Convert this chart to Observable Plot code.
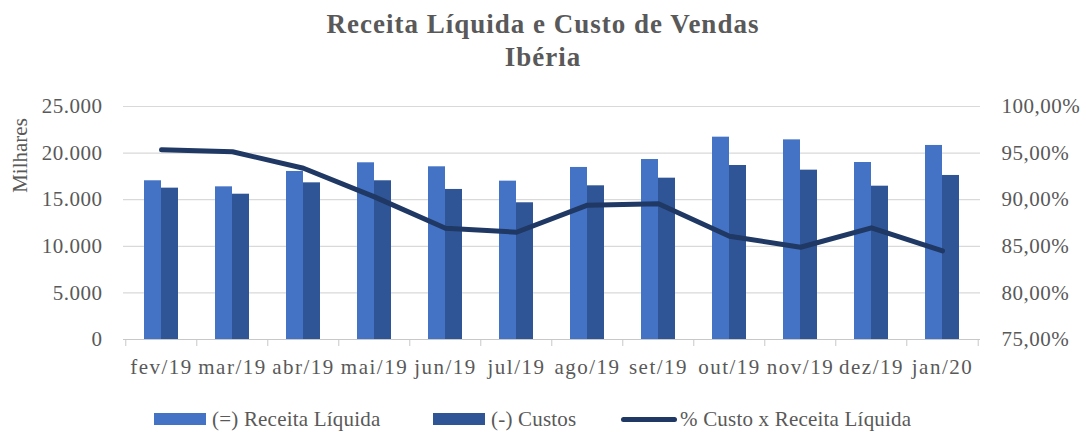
<!DOCTYPE html>
<html>
<head>
<meta charset="utf-8">
<script src="https://cdn.jsdelivr.net/npm/d3@7"></script>
<script src="https://cdn.jsdelivr.net/npm/@observablehq/plot@0.6"></script>
<style>
  html, body { margin: 0; padding: 0; background: #fff; }
  body { width: 1086px; height: 432px; position: relative; overflow: hidden;
         font-family: "Liberation Serif", "DejaVu Serif", serif; color: #595959; }
  #title { text-align: center; font-weight: bold; font-size: 27px; line-height: 33px;
           padding-top: 8px; height: 66px; letter-spacing: 1px; font-family: "Liberation Serif", serif; }
  #chart { position: absolute; left: 0; top: 74px; }
  #chart svg text { font-family: "Liberation Serif", serif !important; font-size: 21px !important; }
  #chart g[aria-label="x-axis tick label"] text { letter-spacing: 1.5px; }
  #chart g[aria-label="y-axis tick label"] text { letter-spacing: 0.5px; }
  .leg { position: absolute; top: 406px; display: flex; align-items: center; font-size: 21px;
         line-height: 26px; letter-spacing: 0.2px; font-family: "Liberation Serif", serif; color: #595959; }
  .sw { width: 52px; height: 12px; margin-right: 6px; }
  .ln { width: 56px; height: 5px; border-radius: 3px; margin-right: 3px; }
</style>
</head>
<body>
<div id="title">Receita Líquida e Custo de Vendas<br>Ibéria</div>
<div id="chart"></div>
<div id="legend"></div>
<script>
const months = ["fev/19","mar/19","abr/19","mai/19","jun/19","jul/19","ago/19","set/19","out/19","nov/19","dez/19","jan/20"];
const receitaLiquida = [17030, 16380, 18030, 18960, 18530, 16990, 18460, 19310, 21710, 21420, 18990, 20820];
const custos = [16240, 15590, 16810, 17030, 16100, 14670, 16490, 17310, 18670, 18170, 16450, 17600];
const pctCusto = [95.35, 95.14, 93.38, 90.3, 86.94, 86.51, 89.41, 89.56, 86.08, 84.9, 86.98, 84.5];
const leftTicks = [0, 5000, 10000, 15000, 20000, 25000];
const rightTicks = [75, 80, 85, 90, 95, 100];
const seriesNames = ["(=) Receita Líquida", "(-) Custos", "% Custo x Receita Líquida"];
const colors = ["#4472C4", "#2F5597", "#1F3864"];

const data = months.map((m, i) => ({month: m, receita: receitaLiquida[i], custos: custos[i], pct: pctCusto[i]}));

// map the right (percent) axis onto the left scale: 75% -> 0, 100% -> 25000
const pMin = rightTicks[0], pMax = rightTicks[rightTicks.length - 1];
const yMax = leftTicks[leftTicks.length - 1];
const toY = p => (p - pMin) / (pMax - pMin) * yMax;
const fromY = v => pMin + v / yMax * (pMax - pMin);

const W = 1086, ML = 123, MR = 106;
const step = (W - ML - MR) / months.length;
const barW = 17;
const pad = 1 - (2 * barW) / step;

const fmtThousands = v => d3.format(",")(v).replace(/,/g, ".");
const fmtPct = v => fromY(v).toFixed(2).replace(".", ",") + "%";

const chart = Plot.plot({
  width: W,
  height: 321,
  marginLeft: ML,
  marginRight: MR,
  marginTop: 32,
  marginBottom: 56,
  style: {fontFamily: "'Liberation Serif', serif", fontSize: "21px", color: "#595959", background: "white", overflow: "visible"},
  x: {domain: months, type: "band", paddingInner: pad, paddingOuter: pad / 2},
  y: {domain: [0, yMax]},
  marks: [
    Plot.gridY(leftTicks, {stroke: "#d9d9d9", strokeOpacity: 1, strokeWidth: 1.2}),
    Plot.barY(data, {x: "month", y: "receita", fill: colors[0], insetRight: barW, insetLeft: 0}),
    Plot.barY(data, {x: "month", y: "custos", fill: colors[1], insetLeft: barW, insetRight: 0}),
    Plot.ruleY([0], {stroke: "#c8c8c8", strokeWidth: 1.2}),
    Plot.lineY(data, {x: "month", y: d => toY(d.pct), stroke: colors[2], strokeWidth: 5, strokeLinecap: "round", strokeLinejoin: "round"}),
    Plot.axisY({anchor: "left", ticks: leftTicks, tickFormat: fmtThousands, tickSize: 0, tickPadding: 21, fontSize: 21, label: null, fill: "#595959"}),
    Plot.axisY({anchor: "right", ticks: rightTicks.map(toY), tickFormat: fmtPct, tickSize: 0, tickPadding: 21, fontSize: 21, label: null, fill: "#595959"}),
    Plot.axisX({tickSize: 0, tickPadding: 20, fontSize: 21, label: null, fill: "#595959"}),
    Plot.axisX({tickSize: 7, tickFormat: () => "", label: null, stroke: "#c8c8c8", dx: -step / 2}),
    Plot.axisX({ticks: [months[months.length - 1]], tickSize: 7, tickFormat: () => "", label: null, stroke: "#c8c8c8", dx: step / 2}),
    Plot.text(["Milhares"], {frameAnchor: "top-left", text: d => d, rotate: -90, dx: -111, dy: 49, fontSize: 21, fill: "#595959", textAnchor: "middle"})
  ]
});
document.getElementById("chart").appendChild(chart);

const legend = document.getElementById("legend");
const legLeft = [154, 433, 621];
seriesNames.forEach((name, i) => {
  const item = document.createElement("div");
  item.className = "leg";
  item.style.left = legLeft[i] + "px";
  const sw = document.createElement("div");
  sw.className = i < 2 ? "sw" : "ln";
  sw.style.background = colors[i];
  const t = document.createElement("span");
  t.textContent = name;
  item.appendChild(sw);
  item.appendChild(t);
  legend.appendChild(item);
});
</script>
</body>
</html>
